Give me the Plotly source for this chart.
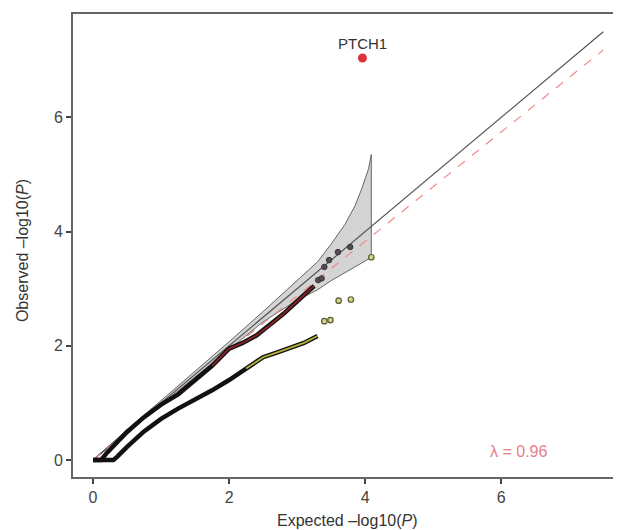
import plotly.graph_objects as go

# ---- data ----
# upper (dense) QQ curve
upper_x = [0.0, 0.12, 0.2, 0.35, 0.5, 0.75, 1.0, 1.25, 1.5, 1.75, 2.0, 2.2, 2.4, 2.6, 2.8, 3.0, 3.15, 3.25]
upper_y = [0.0, 0.0, 0.12, 0.30, 0.49, 0.75, 0.97, 1.15, 1.40, 1.65, 1.95, 2.05, 2.18, 2.36, 2.56, 2.78, 2.95, 3.05]
upper_col_start = 9   # index where dark red colouring begins
# sparse tail of upper curve
upper_tail_x = [3.31, 3.36, 3.40, 3.47, 3.60, 3.78]
upper_tail_y = [3.15, 3.18, 3.38, 3.50, 3.64, 3.73]

# lower (dense) QQ curve
lower_x = [0.0, 0.3, 0.35, 0.5, 0.75, 1.0, 1.25, 1.5, 1.75, 2.0, 2.25, 2.5, 2.7, 2.9, 3.1, 3.3]
lower_y = [0.0, 0.0, 0.05, 0.23, 0.50, 0.72, 0.90, 1.05, 1.22, 1.40, 1.60, 1.80, 1.88, 1.97, 2.05, 2.17]
lower_col_start = 10
# sparse tail of lower curve
lower_tail_x = [3.40, 3.49, 3.61, 3.79, 4.09]
lower_tail_y = [2.43, 2.45, 2.79, 2.81, 3.55]

# confidence band
band_x = [0.0, 0.5, 1.0, 1.5, 2.0, 2.5, 3.0, 3.3, 3.5, 3.7, 3.85, 3.95, 4.05, 4.09]
band_upper = [0.0, 0.53, 1.04, 1.55, 2.07, 2.60, 3.14, 3.47, 3.78, 4.12, 4.45, 4.75, 5.10, 5.35]
band_lower = [0.0, 0.48, 0.97, 1.46, 1.94, 2.42, 2.80, 2.98, 3.14, 3.28, 3.38, 3.45, 3.52, 3.56]

# reference lines
ref_x = [0.0, 7.5]
ref_y = [0.0, 7.5]
lambda_y = [0.0, 7.18]

# top hit
hit_x = [3.96]
hit_y = [7.04]
hit_label = "PTCH1"
lambda_text = "λ = 0.96"
x_ticks = [0, 2, 4, 6]
y_ticks = [0, 2, 4, 6]

FONT = "Liberation Sans, Arial"

fig = go.Figure()

# band
poly_x = band_x + band_x[::-1]
poly_y = band_upper + band_lower[::-1]
fig.add_trace(go.Scatter(x=poly_x, y=poly_y, mode="lines", fill="toself",
                         fillcolor="rgba(170,170,170,0.5)",
                         line=dict(color="#666666", width=1), hoverinfo="skip"))

# reference lines
fig.add_trace(go.Scatter(x=ref_x, y=ref_y, mode="lines",
                         line=dict(color="#555555", width=1.2)))
fig.add_trace(go.Scatter(x=ref_x, y=lambda_y, mode="lines",
                         line=dict(color="#f08a8a", width=1.2, dash="dash")))

# lower curve
fig.add_trace(go.Scatter(x=lower_x, y=lower_y, mode="lines",
                         line=dict(color="#111111", width=4.5)))
fig.add_trace(go.Scatter(x=lower_x[lower_col_start:], y=lower_y[lower_col_start:], mode="lines",
                         line=dict(color="#b5b23a", width=1.8)))
fig.add_trace(go.Scatter(x=lower_tail_x, y=lower_tail_y, mode="markers",
                         marker=dict(size=5.5, color="#d6d67a", line=dict(color="#5a5a40", width=1.2))))

# upper curve
fig.add_trace(go.Scatter(x=upper_x, y=upper_y, mode="lines",
                         line=dict(color="#111111", width=4.5)))
fig.add_trace(go.Scatter(x=upper_x[upper_col_start:], y=upper_y[upper_col_start:], mode="lines",
                         line=dict(color="#8b2228", width=1.8)))
fig.add_trace(go.Scatter(x=upper_tail_x, y=upper_tail_y, mode="markers",
                         marker=dict(size=5.5, color="#5a4a50", line=dict(color="#333333", width=1))))

# hit
fig.add_trace(go.Scatter(x=hit_x, y=hit_y, mode="markers",
                         marker=dict(size=9, color="#e0303a")))

fig.add_annotation(x=hit_x[0], y=7.29, text=hit_label, showarrow=False,
                   font=dict(family=FONT, size=15, color="#333333"))
fig.add_annotation(x=6.25, y=0.14, text=lambda_text, showarrow=False,
                   font=dict(family=FONT, size=16, color="#e8808a"))

fig.add_annotation(xref="paper", yref="paper", x=0.5, y=-0.093, yanchor="middle",
                   text="Expected –log10(<i>P</i>)", showarrow=False,
                   font=dict(family=FONT, size=16, color="#333333"))
fig.add_annotation(xref="paper", yref="paper", x=-0.093, y=0.488, textangle=-90,
                   xanchor="center", yanchor="middle",
                   text="Observed –log10(<i>P</i>)", showarrow=False,
                   font=dict(family=FONT, size=16, color="#333333"))

# the page body has an 8px margin, so the figure is sized/margined to compensate
fig.update_layout(
    width=613, height=522,
    margin=dict(l=65, r=0, t=6, b=53),
    plot_bgcolor="white", paper_bgcolor="white",
    showlegend=False,
    font=dict(family=FONT, size=16, color="#444444"),
)
fig.update_xaxes(range=[-0.294, 7.76], tickvals=x_ticks, showgrid=False, zeroline=False,
                 showline=True, linecolor="#666666", linewidth=2, mirror=True,
                 ticks="outside", ticklen=5, tickwidth=2, tickcolor="#444444",
                 tickfont=dict(family=FONT, size=16, color="#444444"))
fig.update_yaxes(range=[-0.298, 7.81], tickvals=y_ticks, showgrid=False, zeroline=False,
                 showline=True, linecolor="#666666", linewidth=2, mirror=False,
                 ticks="outside", ticklen=5, tickwidth=2, tickcolor="#444444",
                 tickfont=dict(family=FONT, size=16, color="#444444"))

fig.write_html("out.html")
